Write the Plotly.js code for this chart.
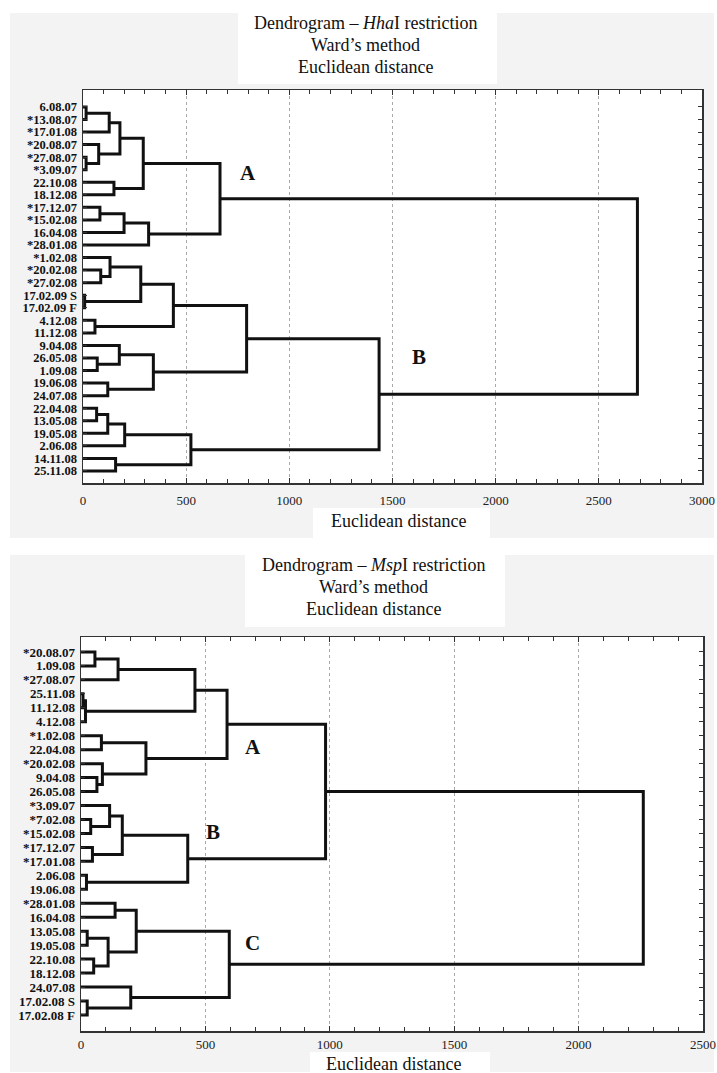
<!DOCTYPE html>
<html>
<head>
<meta charset="utf-8">
<script src="https://cdn.plot.ly/plotly-3.0.1.min.js"></script>
<style>html,body{margin:0;padding:0;background:#fff}#chart{width:717px;height:1073px}</style>
</head>
<body>
<div id="chart"></div>
<script>
// ---------- HhaI dendrogram (top) ----------
const hhaLeaves = ["6.08.07","*13.08.07","*17.01.08","*20.08.07","*27.08.07","*3.09.07",
  "22.10.08","18.12.08","*17.12.07","*15.02.08","16.04.08","*28.01.08","*1.02.08",
  "*20.02.08","*27.02.08","17.02.09 S","17.02.09 F","4.12.08","11.12.08","9.04.08",
  "26.05.08","1.09.08","19.06.08","24.07.08","22.04.08","13.05.08","19.05.08",
  "2.06.08","14.11.08","25.11.08"];
// merge k joins hhaLeft[k] and hhaRight[k] at distance hhaHeight[k]; "#k" = result of merge k
const hhaLeft  = ["6.08.07","#0","*27.08.07","*20.08.07","#1","22.10.08","#4","*17.12.07","#7","#8",
  "#6","*20.02.08","*1.02.08","17.02.09 S","#12","4.12.08","#14","26.05.08","9.04.08","19.06.08",
  "#18","#16","22.04.08","#22","#23","14.11.08","#24","#21","#10"];
const hhaRight = ["*13.08.07","*17.01.08","*3.09.07","#2","#3","18.12.08","#5","*15.02.08","16.04.08","*28.01.08",
  "#9","*27.02.08","#11","17.02.09 F","#13","11.12.08","#15","1.09.08","#17","24.07.08",
  "#19","#20","13.05.08","19.05.08","2.06.08","25.11.08","#25","#26","#27"];
const hhaHeight = [15,127,15,76,179,150,292,82,199,318,
  664,86,131,8,280,58,438,69,176,120,
  341,793,66,120,202,158,523,1435,2687];
const hhaTicks = [0,500,1000,1500,2000,2500,3000];
const hhaLetters = ["A","B"];
const hhaLetterX = [800,1629];
const hhaLetterY = [5.27,19.95];

// ---------- MspI dendrogram (bottom) ----------
const mspLeaves = ["*20.08.07","1.09.08","*27.08.07","25.11.08","11.12.08","4.12.08","*1.02.08",
  "22.04.08","*20.02.08","9.04.08","26.05.08","*3.09.07","*7.02.08","*15.02.08","*17.12.07",
  "*17.01.08","2.06.08","19.06.08","*28.01.08","16.04.08","13.05.08","19.05.08","22.10.08",
  "18.12.08","24.07.08","17.02.08 S","17.02.08 F"];
const mspLeft  = ["*20.08.07","#0","25.11.08","#2","#1","*1.02.08","9.04.08","*20.02.08","#5","#4",
  "*7.02.08","*3.09.07","*17.12.07","#11","2.06.08","#13","#9",
  "*28.01.08","13.05.08","22.10.08","#18","#17","17.02.08 S","24.07.08","#21","#16"];
const mspRight = ["1.09.08","*27.08.07","11.12.08","4.12.08","#3","22.04.08","26.05.08","#6","#7","#8",
  "*15.02.08","#10","*17.01.08","#12","19.06.08","#14","#15",
  "16.04.08","19.05.08","18.12.08","#19","#20","17.02.08 F","#22","#23","#24"];
const mspHeight = [56,149,8,18,458,82,64,86,261,587,
  39,115,46,166,22,429,983,
  137,25,51,109,222,25,200,596,2260];
const mspTicks = [0,500,1000,1500,2000,2500];
const mspLetters = ["A","B","C"];
const mspLetterX = [692,532,690];
const mspLetterY = [6.78,12.87,20.87];

function dendro(leaves, left, right, height) {
  const pos = {};
  leaves.forEach((l, i) => { pos[l] = {x: 0, y: i}; });
  const xs = [], ys = [];
  for (let k = 0; k < height.length; k++) {
    const a = pos[left[k]], b = pos[right[k]], h = height[k];
    xs.push(a.x, h, h, b.x, null);
    ys.push(a.y, a.y, b.y, b.y, null);
    pos['#' + k] = {x: h, y: (a.y + b.y) / 2};
  }
  return {xs, ys};
}

const W = 717, H = 1073;
const px = v => v / W, py = v => 1 - v / H;
const serif = 'Liberation Serif, Times New Roman, serif';

const d1 = dendro(hhaLeaves, hhaLeft, hhaRight, hhaHeight);
const d2 = dendro(mspLeaves, mspLeft, mspRight, mspHeight);

const traces = [
  {x: d1.xs, y: d1.ys, xaxis: 'x', yaxis: 'y', mode: 'lines', line: {color: '#111', width: 3}, hoverinfo: 'skip', connectgaps: false},
  {x: d2.xs, y: d2.ys, xaxis: 'x2', yaxis: 'y2', mode: 'lines', line: {color: '#111', width: 3}, hoverinfo: 'skip', connectgaps: false}
];

function xax(domain, anchor, max, ticks, standoff) {
  return {
    domain: domain, anchor: anchor, range: [0, max], tickmode: 'array', tickvals: ticks,
    ticks: 'inside', ticklen: 5, tickwidth: 1, tickcolor: '#333',
    minor: {tickmode: 'linear', tick0: 0, dtick: 100, ticks: 'inside', ticklen: 4, tickcolor: '#333', showgrid: false},
    showgrid: true, gridcolor: '#aaa', griddash: 'dot', gridwidth: 1,
    showline: true, linecolor: '#333', linewidth: 1.5, mirror: 'ticks', zeroline: false,
    tickfont: {family: serif, size: 13, color: '#222'}, ticklabelstandoff: standoff, fixedrange: true
  };
}
function yax(domain, anchor, leaves, lo, hi, fs) {
  return {
    domain: domain, anchor: anchor, range: [hi, lo], tickmode: 'array',
    tickvals: leaves.map((_, i) => i), ticktext: leaves,
    ticks: 'inside', ticklen: 4, tickcolor: '#333',
    showgrid: false, zeroline: false, showline: true, linecolor: '#333', linewidth: 1.5, mirror: 'ticks',
    tickfont: {family: serif, size: fs, weight: 700, color: '#111'}, ticklabelstandoff: 2, fixedrange: true
  };
}

const annotations = [];
function addText(text, x, y, size) {
  annotations.push({text: text, xref: 'paper', yref: 'paper', x: px(x), y: py(y), xanchor: 'center', yanchor: 'middle',
    showarrow: false, font: {family: serif, size: size, color: '#111'}});
}
addText('Dendrogram – <i>Hha</i>I restriction', 365, 23.5, 18);
addText('Ward’s method', 365, 45, 18);
addText('Euclidean distance', 365, 66.5, 18);
addText('Euclidean distance', 399, 521, 18);
addText('Dendrogram – <i>Msp</i>I restriction', 373, 565, 18);
addText('Ward’s method', 373, 587, 18);
addText('Euclidean distance', 373, 608.5, 18);
addText('Euclidean distance', 393, 1063.5, 18);

hhaLetters.forEach((t, i) => annotations.push({text: t, xref: 'x', yref: 'y', x: hhaLetterX[i], y: hhaLetterY[i],
  showarrow: false, font: {family: serif, size: 21, weight: 700, color: '#111'}}));
mspLetters.forEach((t, i) => annotations.push({text: t, xref: 'x2', yref: 'y2', x: mspLetterX[i], y: mspLetterY[i],
  showarrow: false, font: {family: serif, size: 21, weight: 700, color: '#111'}}));

function rect(x0, y0, x1, y1, color) {
  return {type: 'rect', xref: 'paper', yref: 'paper', x0: px(x0), x1: px(x1), y0: py(y1), y1: py(y0),
    fillcolor: color, line: {width: 0}, layer: 'below'};
}
const shapes = [
  rect(10, 13, 714, 538, '#f3f3f3'),
  rect(10, 555, 714, 1072, '#f3f3f3'),
  rect(238, 0, 497, 84, '#ffffff'),
  rect(313, 508, 490, 540, '#ffffff'),
  rect(245, 555, 505, 627, '#ffffff'),
  rect(310, 1052, 490, 1073, '#ffffff'),
  {type: 'rect', xref: 'x domain', yref: 'y domain', x0: 0, x1: 1, y0: 0, y1: 1, fillcolor: '#fff', line: {width: 0}, layer: 'below'},
  {type: 'rect', xref: 'x2 domain', yref: 'y2 domain', x0: 0, x1: 1, y0: 0, y1: 1, fillcolor: '#fff', line: {width: 0}, layer: 'below'}
];

const layout = {
  width: W, height: H, margin: {l: 0, r: 0, t: 0, b: 0},
  paper_bgcolor: '#ffffff', plot_bgcolor: '#ffffff', showlegend: false,
  xaxis: xax([px(83), px(702)], 'y', 3000, hhaTicks, 5),
  yaxis: yax([py(483), py(90)], 'x', hhaLeaves, -1.35, 29.96, 12.5),
  xaxis2: xax([px(81), px(703)], 'y2', 2500, mspTicks, 1),
  yaxis2: yax([py(1031), py(637)], 'x2', mspLeaves, -1.07, 27.15, 13),
  annotations: annotations, shapes: shapes
};

Plotly.newPlot('chart', traces, layout, {displayModeBar: false, staticPlot: true});
</script>
</body>
</html>
